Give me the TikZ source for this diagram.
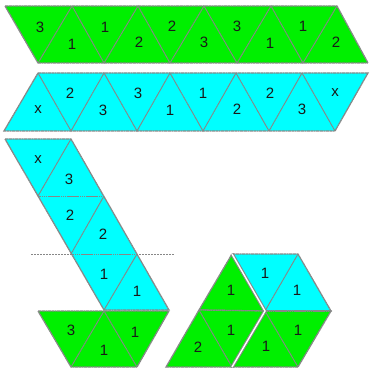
\documentclass[tikz,border=0pt]{standalone}
\usepackage{fontspec}
\setmainfont{Liberation Sans}
\definecolor{grn}{RGB}{0,240,0}
\definecolor{cyn}{RGB}{0,255,255}
\definecolor{edge}{RGB}{135,135,135}
\tikzset{
  x=1pt,y=-1pt,
  edgeline/.style={draw=edge,line width=1.3pt,dash pattern=on 1.5pt off 0.4pt},
  greenface/.style={fill=grn,edgeline},
  cyanface/.style={fill=cyn,edgeline},
  inner/.style={edgeline,line width=1pt},
  num/.style={font=\fontsize{15}{16}\selectfont,text=black!90,inner sep=0pt},
  cutline/.style={draw=edge,line width=0.8pt,dash pattern=on 2pt off 1pt},
  seam/.style={draw=edge,line width=3.6pt,dash pattern=on 1.5pt off 0.4pt},
  seamgap/.style={draw=white,line width=1.4pt}
}
\begin{document}
\begin{tikzpicture}
\useasboundingbox (0,0) rectangle (369,371);
% top green strip
\draw[greenface] (5,6) -- (337,6) -- (368,63) -- (38,63) -- cycle;
\draw[inner] (38,63) -- (72,6) -- (104,63) -- (138,6) -- (170,63) -- (204,6) -- (237,63) -- (271,6) -- (303,63) -- (337,6);
\foreach \x/\y/\t [count=\i] in {40/27/3,72/44/1,105/27/1,139/42/2,172/26/2,204/42/3,237/26/3,270/43/1,303/26/1,336/42/2}
  \node[num] (a\i) at (\x,\y) {\t};
% second cyan strip
\draw[cyanface] (38,73) -- (368,73) -- (335,131) -- (4,131) -- cycle;
\draw[inner] (38,73) -- (71,131) -- (104,73) -- (137,131) -- (170,73) -- (203,131) -- (236,73) -- (269,131) -- (302,73) -- (335,131);
\foreach \x/\y/\t [count=\i] in {38/110/x,70/93/2,103/110/3,138/93/3,170/110/1,203/93/1,237/109/2,270/93/2,302/109/3,335/93/x}
  \node[num] (b\i) at (\x,\y) {\t};
% dashed fold line
\draw[cutline] (31,254) -- (174,254);
% slanted cyan strip
\draw[cyanface] (5,139) -- (71,139) -- (169,310) -- (104,310) -- cycle;
\draw[inner] (38,196) -- (104,196) (71,254) -- (137,254);
\draw[inner] (71,139) -- (38,196) (104,196) -- (71,254) (137,254) -- (104,310);
\foreach \x/\y/\t [count=\i] in {38/160/x,69/179/3,70/215/2,103/234/2,104/274/1,137/291/1}
  \node[num] (c\i) at (\x,\y) {\t};
% green trapezoid under it
\draw[greenface] (38,311) -- (169,311) -- (137,367) -- (71,367) -- cycle;
\draw[inner] (71,367) -- (104,311) -- (137,367);
\foreach \x/\y/\t [count=\i] in {71/330/3,104/350/1,135/332/1}
  \node[num] (d\i) at (\x,\y) {\t};
% hexagon group
\draw[cyanface] (232,254) -- (298,254) -- (331,311) -- (265,311) -- cycle;
\draw[inner] (298,254) -- (265,311);
\draw[greenface] (232,254) -- (199,310) -- (265,311) -- cycle;
\draw[greenface] (199,310) -- (265,311) -- (232,367) -- (166,367) -- cycle;
\draw[inner] (199,310) -- (232,367);
\draw[greenface] (265,311) -- (331,311) -- (298,367) -- (232,367) -- cycle;
\draw[inner] (265,311) -- (298,367);
\draw[edgeline,line width=2pt] (265,311) -- (331,311);
\draw[seam] (232,254) -- (265,311) -- (232,367);
\draw[seamgap] (232,254) -- (265,311) -- (232,367);
\foreach \x/\y/\t [count=\i] in {265/273/1,297/290/1,231/290/1,231/330/1,198/347/2,266/346/1,298/330/1}
  \node[num] (e\i) at (\x,\y) {\t};
\end{tikzpicture}
\end{document}
